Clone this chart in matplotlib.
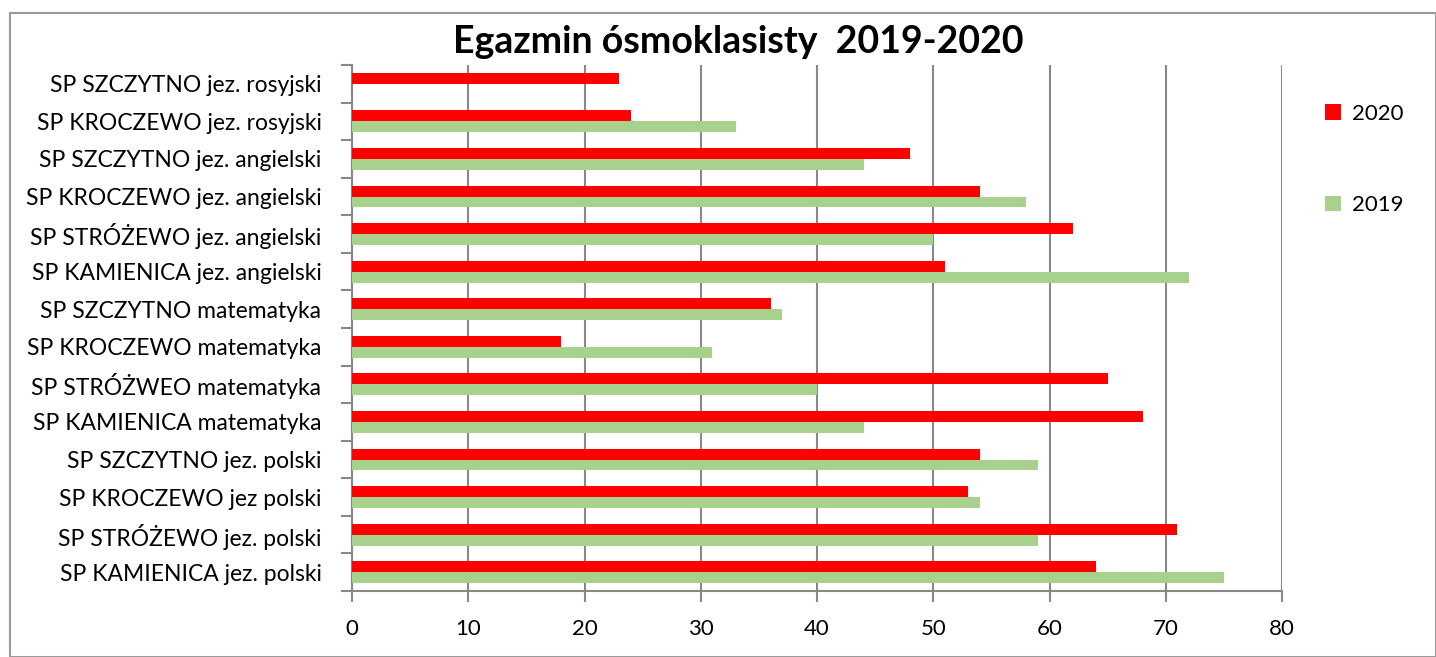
import matplotlib.pyplot as plt
import numpy as np
from matplotlib.patches import Rectangle

# categories, bottom to top as drawn
schools = ['SP KAMIENICA jez. polski', 'SP STRÓŻEWO jez. polski', 'SP KROCZEWO jez polski',
           'SP SZCZYTNO jez. polski', 'SP KAMIENICA matematyka', 'SP STRÓŻWEO matematyka',
           'SP KROCZEWO matematyka', 'SP SZCZYTNO matematyka', 'SP KAMIENICA jez. angielski',
           'SP STRÓŻEWO jez. angielski', 'SP KROCZEWO jez. angielski', 'SP SZCZYTNO jez. angielski',
           'SP KROCZEWO jez. rosyjski', 'SP SZCZYTNO jez. rosyjski']
wyniki_2020 = [64, 71, 53, 54, 68, 65, 18, 36, 51, 62, 54, 48, 24, 23]
wyniki_2019 = [75, 59, 54, 59, 44, 40, 31, 37, 72, 50, 58, 44, 33, 0]

plt.rcParams['font.family'] = ['Lato', 'DejaVu Sans']

fig = plt.figure(figsize=(14.36, 6.57), dpi=100)
ax = fig.add_axes([352/1436, 1-591/657, 930/1436, 526/657])

y = np.arange(len(schools))
h = 0.29
ax.barh(y + h/2, wyniki_2020, height=h, color='#ff0000', label='2020', zorder=3)
ax.barh(y - h/2, wyniki_2019, height=h, color='#a9d18e', label='2019', zorder=3)

ax.set_xlim(0, 80)
ax.set_ylim(-0.5, len(schools) - 0.5)
ax.set_xticks(range(0, 81, 10))
ax.set_yticks(y)
ax.set_yticklabels(schools)
ax.set_yticks(np.arange(-0.5, len(schools), 1), minor=True)
ax.tick_params(axis='y', which='major', length=0, labelsize=16.5, pad=22)
ax.tick_params(axis='y', which='minor', length=8, color='#888888', width=1.5)
ax.tick_params(axis='x', length=8, color='#888888', width=1.5, labelsize=16, pad=12)
ax.grid(axis='x', color='#888888', linewidth=1.5, zorder=0)
for s in ['top', 'right']:
    ax.spines[s].set_visible(False)
for s in ['left', 'bottom']:
    ax.spines[s].set_color('#888888')
    ax.spines[s].set_linewidth(1.5)

fig.text(738/1436, 1-42/657, 'Egazmin ósmoklasisty  2019-2020', ha='center', va='center',
         fontsize=27, fontweight='bold')

handles, labels = ax.get_legend_handles_labels()
fig.legend(handles, labels, loc='upper left', bbox_to_anchor=(1305/1436, 1-84/657), frameon=False,
           fontsize=16, labelspacing=3.2, handlelength=0.7, handleheight=0.7, handletextpad=0.5)

fig.patches.append(Rectangle((10/1436, 0), 1-10/1436, 1-13/657, transform=fig.transFigure,
                             fill=False, edgecolor='#9a9a9a', linewidth=1.5))

fig.savefig('out.png', dpi=100)
